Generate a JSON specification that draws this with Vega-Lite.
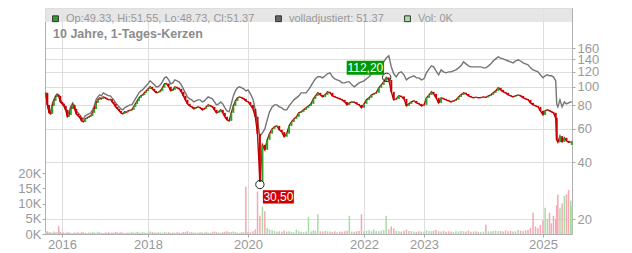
{
"$schema":"https://vega.github.io/schema/vega-lite/v6.json",
"width":527,"height":226,
"autosize":{"type":"none"},
"padding":{"left":45,"top":8,"right":60,"bottom":19},
"background":"#ffffff",
"title":{"text":"10 Jahre, 1-Tages-Kerzen","anchor":"start","frame":"group","offset":0,"baseline":"alphabetic","dx":8,"dy":42,"fontSize":12.5,"fontWeight":"bold","color":"#8c8c8c","font":"Liberation Sans"},
"datasets":{"p":[
{"d":"2015-08-01","o":91,"c":93,"a":93.5,"v":700},
{"d":"2015-08-16","o":93,"c":80.3,"a":81.3,"v":900},
{"d":"2015-09-01","o":80.3,"c":73,"a":74.6,"v":600},
{"d":"2015-09-16","o":73,"c":72,"a":73.8,"v":500},
{"d":"2015-10-01","o":72,"c":79.3,"a":81.3,"v":400},
{"d":"2015-10-16","o":79.3,"c":84.3,"a":85.4,"v":800},
{"d":"2015-11-01","o":84.3,"c":88.5,"a":89.6,"v":500},
{"d":"2015-11-16","o":88.5,"c":90.7,"a":91.8,"v":600},
{"d":"2015-12-01","o":90.7,"c":89.6,"a":90.7,"v":2600},
{"d":"2015-12-16","o":89.6,"c":83.3,"a":85.4,"v":700},
{"d":"2016-01-01","o":83.3,"c":81.3,"a":83.3,"v":400},
{"d":"2016-01-16","o":81.3,"c":79.3,"a":81.3,"v":500},
{"d":"2016-02-01","o":79.3,"c":75.6,"a":77.5,"v":300},
{"d":"2016-02-16","o":75.6,"c":69.5,"a":72,"v":600},
{"d":"2016-03-01","o":69.5,"c":71.1,"a":73.8,"v":500},
{"d":"2016-03-16","o":71.1,"c":76.5,"a":79.3,"v":400},
{"d":"2016-04-01","o":76.5,"c":80.3,"a":82.3,"v":300},
{"d":"2016-04-16","o":80.3,"c":76.5,"a":79.3,"v":500},
{"d":"2016-05-01","o":76.5,"c":72,"a":74.6,"v":400},
{"d":"2016-05-16","o":72,"c":70.3,"a":72.9,"v":600},
{"d":"2016-06-01","o":70.3,"c":68.6,"a":71.1,"v":300},
{"d":"2016-06-16","o":68.6,"c":66.1,"a":68.6,"v":700},
{"d":"2016-07-01","o":66.1,"c":65.3,"a":67.7,"v":500},
{"d":"2016-07-16","o":65.3,"c":67.7,"a":70.3,"v":400},
{"d":"2016-08-01","o":67.7,"c":68.6,"a":71.1,"v":300},
{"d":"2016-08-16","o":68.6,"c":69.5,"a":72,"v":500},
{"d":"2016-09-01","o":69.5,"c":70.3,"a":72.9,"v":400},
{"d":"2016-09-16","o":70.3,"c":72.9,"a":75.6,"v":600},
{"d":"2016-10-01","o":72.9,"c":76.5,"a":79.3,"v":500},
{"d":"2016-10-16","o":76.5,"c":82.3,"a":85.4,"v":400},
{"d":"2016-11-01","o":82.3,"c":85.4,"a":88.5,"v":700},
{"d":"2016-11-16","o":85.4,"c":87.5,"a":90.7,"v":500},
{"d":"2016-12-01","o":87.5,"c":86.4,"a":89.6,"v":400},
{"d":"2016-12-16","o":86.4,"c":88.5,"a":93,"v":300},
{"d":"2017-01-01","o":88.5,"c":87.5,"a":91.8,"v":500},
{"d":"2017-01-16","o":87.5,"c":86.4,"a":90.7,"v":400},
{"d":"2017-02-01","o":86.4,"c":85.4,"a":89.6,"v":600},
{"d":"2017-02-16","o":85.4,"c":86,"a":89.6,"v":300},
{"d":"2017-03-01","o":86,"c":83.3,"a":87.5,"v":500},
{"d":"2017-03-16","o":83.3,"c":81.3,"a":85.4,"v":400},
{"d":"2017-04-01","o":81.3,"c":78.4,"a":82.3,"v":700},
{"d":"2017-04-16","o":78.4,"c":76.5,"a":80.3,"v":500},
{"d":"2017-05-01","o":76.5,"c":74.7,"a":78.4,"v":400},
{"d":"2017-05-16","o":74.7,"c":72.9,"a":76.5,"v":600},
{"d":"2017-06-01","o":72.9,"c":72,"a":75.6,"v":500},
{"d":"2017-06-16","o":72,"c":73.8,"a":77.5,"v":300},
{"d":"2017-07-01","o":73.8,"c":73.4,"a":78.4,"v":400},
{"d":"2017-07-16","o":73.4,"c":74.7,"a":79.3,"v":500},
{"d":"2017-08-01","o":74.7,"c":75.2,"a":80.3,"v":400},
{"d":"2017-08-16","o":75.2,"c":75.6,"a":80.3,"v":600},
{"d":"2017-09-01","o":75.6,"c":78.4,"a":83.3,"v":500},
{"d":"2017-09-16","o":78.4,"c":81.3,"a":86.4,"v":400},
{"d":"2017-10-01","o":81.3,"c":84.3,"a":89.6,"v":700},
{"d":"2017-10-16","o":84.3,"c":87.5,"a":93,"v":500},
{"d":"2017-11-01","o":87.5,"c":89.6,"a":95.2,"v":400},
{"d":"2017-11-16","o":89.6,"c":90.7,"a":96.4,"v":600},
{"d":"2017-12-01","o":90.7,"c":93,"a":98.9,"v":500},
{"d":"2017-12-16","o":93,"c":95.2,"a":101.3,"v":300},
{"d":"2018-01-01","o":95.2,"c":97.6,"a":103.7,"v":500},
{"d":"2018-01-16","o":97.6,"c":100.1,"a":107.6,"v":800},
{"d":"2018-02-01","o":100.1,"c":97.6,"a":105,"v":600},
{"d":"2018-02-16","o":97.6,"c":95.2,"a":102.5,"v":500},
{"d":"2018-03-01","o":95.2,"c":93,"a":100.1,"v":400},
{"d":"2018-03-16","o":93,"c":93.6,"a":100.1,"v":600},
{"d":"2018-04-01","o":93.6,"c":95.2,"a":102.5,"v":500},
{"d":"2018-04-16","o":95.2,"c":98.9,"a":106.3,"v":400},
{"d":"2018-05-01","o":98.9,"c":103.7,"a":111.6,"v":700},
{"d":"2018-05-16","o":103.7,"c":104.2,"a":113,"v":500},
{"d":"2018-06-01","o":104.2,"c":100.1,"a":108.9,"v":600},
{"d":"2018-06-16","o":100.1,"c":95.2,"a":103.7,"v":400},
{"d":"2018-07-01","o":95.2,"c":96.4,"a":105,"v":500},
{"d":"2018-07-16","o":96.4,"c":100.1,"a":108.9,"v":400},
{"d":"2018-08-01","o":100.1,"c":98.9,"a":107.6,"v":600},
{"d":"2018-08-16","o":98.9,"c":97.6,"a":106.3,"v":500},
{"d":"2018-09-01","o":97.6,"c":94.1,"a":102.5,"v":400},
{"d":"2018-09-16","o":94.1,"c":89.6,"a":97.6,"v":700},
{"d":"2018-10-01","o":89.6,"c":85.4,"a":93,"v":600},
{"d":"2018-10-16","o":85.4,"c":81.3,"a":88.5,"v":900},
{"d":"2018-11-01","o":81.3,"c":79.3,"a":86.4,"v":500},
{"d":"2018-11-16","o":79.3,"c":78.4,"a":85.4,"v":600},
{"d":"2018-12-01","o":78.4,"c":76.5,"a":83.3,"v":400},
{"d":"2018-12-16","o":76.5,"c":77.5,"a":84.3,"v":500},
{"d":"2019-01-01","o":77.5,"c":78.4,"a":85.4,"v":400},
{"d":"2019-01-16","o":78.4,"c":77.5,"a":85.4,"v":600},
{"d":"2019-02-01","o":77.5,"c":75.6,"a":83.3,"v":500},
{"d":"2019-02-16","o":75.6,"c":76.5,"a":84.3,"v":400},
{"d":"2019-03-01","o":76.5,"c":78.4,"a":86.4,"v":700},
{"d":"2019-03-16","o":78.4,"c":80.3,"a":88.5,"v":500},
{"d":"2019-04-01","o":80.3,"c":79.3,"a":87.5,"v":400},
{"d":"2019-04-16","o":79.3,"c":78.4,"a":86.4,"v":600},
{"d":"2019-05-01","o":78.4,"c":75.6,"a":83.3,"v":800},
{"d":"2019-05-16","o":75.6,"c":72.9,"a":80.3,"v":600},
{"d":"2019-06-01","o":72.9,"c":73.8,"a":81.3,"v":500},
{"d":"2019-06-16","o":73.8,"c":75.6,"a":83.3,"v":400},
{"d":"2019-07-01","o":75.6,"c":72.9,"a":81.3,"v":600},
{"d":"2019-07-16","o":72.9,"c":69.5,"a":77.5,"v":700},
{"d":"2019-08-01","o":69.5,"c":66.9,"a":74.7,"v":900},
{"d":"2019-08-16","o":66.9,"c":66.1,"a":73.8,"v":600},
{"d":"2019-09-01","o":66.1,"c":72.9,"a":81.3,"v":700},
{"d":"2019-09-16","o":72.9,"c":79.3,"a":89.6,"v":800},
{"d":"2019-10-01","o":79.3,"c":84.3,"a":95.2,"v":600},
{"d":"2019-10-16","o":84.3,"c":87.5,"a":98.9,"v":500},
{"d":"2019-11-01","o":87.5,"c":88.5,"a":100.1,"v":400},
{"d":"2019-11-16","o":88.5,"c":87.5,"a":98.9,"v":600},
{"d":"2019-12-01","o":87.5,"c":86.4,"a":97.6,"v":500},
{"d":"2019-12-16","o":86.4,"c":84.3,"a":95.2,"v":15500},
{"d":"2020-01-01","o":84.3,"c":83.3,"a":96.4,"v":700},
{"d":"2020-01-16","o":83.3,"c":80.3,"a":91.8,"v":600},
{"d":"2020-02-01","o":80.3,"c":76.5,"a":86.4,"v":900},
{"d":"2020-02-16","o":76.5,"c":69.5,"a":75.6,"v":1500},
{"d":"2020-03-01","o":69.5,"c":56.4,"a":65.3,"v":14000},
{"d":"2020-03-16","o":56.4,"c":31.5,"a":54.9,"v":6000},
{"d":"2020-04-01","o":31.5,"c":49.4,"a":57.1,"v":9000},
{"d":"2020-04-16","o":49.4,"c":46.5,"a":60,"v":7500},
{"d":"2020-05-01","o":46.5,"c":52.5,"a":66.9,"v":2000},
{"d":"2020-05-16","o":52.5,"c":56.6,"a":73.8,"v":1500},
{"d":"2020-06-01","o":56.6,"c":60,"a":78.4,"v":1200},
{"d":"2020-06-16","o":60,"c":61.5,"a":80.3,"v":1000},
{"d":"2020-07-01","o":61.5,"c":62.2,"a":80.3,"v":800},
{"d":"2020-07-16","o":62.2,"c":59.3,"a":78.4,"v":900},
{"d":"2020-08-01","o":59.3,"c":57.7,"a":77.5,"v":700},
{"d":"2020-08-16","o":57.7,"c":54.5,"a":75.6,"v":1100},
{"d":"2020-09-01","o":54.5,"c":56.6,"a":75.6,"v":800},
{"d":"2020-09-16","o":56.6,"c":62.2,"a":79.3,"v":900},
{"d":"2020-10-01","o":62.2,"c":65.3,"a":82.3,"v":700},
{"d":"2020-10-16","o":65.3,"c":67.7,"a":85.4,"v":600},
{"d":"2020-11-01","o":67.7,"c":69.5,"a":87.5,"v":1400},
{"d":"2020-11-16","o":69.5,"c":72.9,"a":89.6,"v":900},
{"d":"2020-12-01","o":72.9,"c":73.8,"a":93,"v":700},
{"d":"2020-12-16","o":73.8,"c":75.6,"a":93,"v":600},
{"d":"2021-01-01","o":75.6,"c":77.5,"a":93,"v":800},
{"d":"2021-01-16","o":77.5,"c":79.3,"a":96.4,"v":5500},
{"d":"2021-02-01","o":79.3,"c":81.3,"a":101.3,"v":900},
{"d":"2021-02-16","o":81.3,"c":86.4,"a":106.3,"v":1200},
{"d":"2021-03-01","o":86.4,"c":89.6,"a":110.3,"v":1000},
{"d":"2021-03-16","o":89.6,"c":93,"a":113,"v":6500},
{"d":"2021-04-01","o":93,"c":90.7,"a":113,"v":900},
{"d":"2021-04-16","o":90.7,"c":88.5,"a":111.6,"v":800},
{"d":"2021-05-01","o":88.5,"c":90.7,"a":114.4,"v":1000},
{"d":"2021-05-16","o":90.7,"c":94.1,"a":117.2,"v":900},
{"d":"2021-06-01","o":94.1,"c":93,"a":118.6,"v":800},
{"d":"2021-06-16","o":93,"c":89.6,"a":113,"v":700},
{"d":"2021-07-01","o":89.6,"c":88.5,"a":110.3,"v":900},
{"d":"2021-07-16","o":88.5,"c":87.5,"a":108.9,"v":600},
{"d":"2021-08-01","o":87.5,"c":86.4,"a":107.6,"v":800},
{"d":"2021-08-16","o":86.4,"c":85.4,"a":105,"v":700},
{"d":"2021-09-01","o":85.4,"c":83.3,"a":105,"v":900},
{"d":"2021-09-16","o":83.3,"c":80.3,"a":106.3,"v":1100},
{"d":"2021-10-01","o":80.3,"c":82.3,"a":106.3,"v":6000},
{"d":"2021-10-16","o":82.3,"c":83.3,"a":102.5,"v":800},
{"d":"2021-11-01","o":83.3,"c":83,"a":100.1,"v":700},
{"d":"2021-11-16","o":83,"c":81.3,"a":102.5,"v":900},
{"d":"2021-12-01","o":81.3,"c":80.3,"a":105,"v":1000},
{"d":"2021-12-16","o":80.3,"c":77.5,"a":106.3,"v":6500},
{"d":"2022-01-01","o":77.5,"c":81.3,"a":107.6,"v":900},
{"d":"2022-01-16","o":81.3,"c":85.4,"a":110.3,"v":1000},
{"d":"2022-02-01","o":85.4,"c":87.5,"a":113,"v":1200},
{"d":"2022-02-16","o":87.5,"c":90.7,"a":117.2,"v":900},
{"d":"2022-03-01","o":90.7,"c":91.8,"a":120,"v":1500},
{"d":"2022-03-16","o":91.8,"c":93,"a":124.5,"v":1000},
{"d":"2022-04-01","o":93,"c":98.9,"a":127.5,"v":900},
{"d":"2022-04-16","o":98.9,"c":102.5,"a":130.7,"v":1100},
{"d":"2022-05-01","o":102.5,"c":106.3,"a":135.6,"v":1300},
{"d":"2022-05-16","o":106.3,"c":112.2,"a":142,"v":6000},
{"d":"2022-06-01","o":112.2,"c":108.9,"a":145.8,"v":1500},
{"d":"2022-06-16","o":108.9,"c":94.1,"a":127.5,"v":2500},
{"d":"2022-07-01","o":94.1,"c":85.4,"a":117.2,"v":1800},
{"d":"2022-07-16","o":85.4,"c":86.4,"a":113,"v":1000},
{"d":"2022-08-01","o":86.4,"c":89.6,"a":118.6,"v":900},
{"d":"2022-08-16","o":89.6,"c":89,"a":120,"v":800},
{"d":"2022-09-01","o":89,"c":86.4,"a":115.8,"v":1100},
{"d":"2022-09-16","o":86.4,"c":79.3,"a":108.9,"v":1500},
{"d":"2022-10-01","o":79.3,"c":81.3,"a":111.6,"v":1000},
{"d":"2022-10-16","o":81.3,"c":83.3,"a":113,"v":900},
{"d":"2022-11-01","o":83.3,"c":84.3,"a":114.4,"v":800},
{"d":"2022-11-16","o":84.3,"c":82.3,"a":111.6,"v":700},
{"d":"2022-12-01","o":82.3,"c":81.3,"a":111.6,"v":900},
{"d":"2022-12-16","o":81.3,"c":79.3,"a":108.9,"v":800},
{"d":"2023-01-01","o":79.3,"c":80.3,"a":110.3,"v":700},
{"d":"2023-01-16","o":80.3,"c":87.5,"a":118.6,"v":1200},
{"d":"2023-02-01","o":87.5,"c":90.7,"a":124.5,"v":1000},
{"d":"2023-02-16","o":90.7,"c":94.1,"a":129.1,"v":900},
{"d":"2023-03-01","o":94.1,"c":91.8,"a":127.5,"v":1100},
{"d":"2023-03-16","o":91.8,"c":87.5,"a":121.5,"v":1300},
{"d":"2023-04-01","o":87.5,"c":82.3,"a":115.8,"v":900},
{"d":"2023-04-16","o":82.3,"c":87.5,"a":123,"v":800},
{"d":"2023-05-01","o":87.5,"c":86.4,"a":120,"v":1000},
{"d":"2023-05-16","o":86.4,"c":85.4,"a":118.6,"v":700},
{"d":"2023-06-01","o":85.4,"c":84.3,"a":120,"v":900},
{"d":"2023-06-16","o":84.3,"c":83.3,"a":120,"v":800},
{"d":"2023-07-01","o":83.3,"c":84.3,"a":121.5,"v":700},
{"d":"2023-07-16","o":84.3,"c":85.4,"a":123,"v":900},
{"d":"2023-08-01","o":85.4,"c":88.5,"a":126,"v":800},
{"d":"2023-08-16","o":88.5,"c":90.7,"a":129.1,"v":1000},
{"d":"2023-09-01","o":90.7,"c":93,"a":135.6,"v":900},
{"d":"2023-09-16","o":93,"c":91.8,"a":132.3,"v":800},
{"d":"2023-10-01","o":91.8,"c":89.6,"a":129.1,"v":1100},
{"d":"2023-10-16","o":89.6,"c":88.5,"a":127.5,"v":700},
{"d":"2023-11-01","o":88.5,"c":87.5,"a":127.5,"v":800},
{"d":"2023-11-16","o":87.5,"c":88.2,"a":127.5,"v":900},
{"d":"2023-12-01","o":88.2,"c":87.5,"a":127.5,"v":700},
{"d":"2023-12-16","o":87.5,"c":87.8,"a":127.5,"v":600},
{"d":"2024-01-01","o":87.8,"c":88.5,"a":126,"v":800},
{"d":"2024-01-16","o":88.5,"c":88,"a":126,"v":3000},
{"d":"2024-02-01","o":88,"c":89.6,"a":129.1,"v":900},
{"d":"2024-02-16","o":89.6,"c":90.7,"a":132.3,"v":800},
{"d":"2024-03-01","o":90.7,"c":93,"a":137,"v":1000},
{"d":"2024-03-16","o":93,"c":95.2,"a":140.5,"v":1100},
{"d":"2024-04-01","o":95.2,"c":98.9,"a":144,"v":900},
{"d":"2024-04-16","o":98.9,"c":96.4,"a":142,"v":1000},
{"d":"2024-05-01","o":96.4,"c":94.1,"a":140.5,"v":800},
{"d":"2024-05-16","o":94.1,"c":93,"a":138.9,"v":1200},
{"d":"2024-06-01","o":93,"c":90.7,"a":137,"v":900},
{"d":"2024-06-16","o":90.7,"c":89.6,"a":135.6,"v":1000},
{"d":"2024-07-01","o":89.6,"c":88.5,"a":133.9,"v":800},
{"d":"2024-07-16","o":88.5,"c":89.6,"a":137,"v":900},
{"d":"2024-08-01","o":89.6,"c":90.7,"a":138.9,"v":1300},
{"d":"2024-08-16","o":90.7,"c":89.6,"a":137,"v":1100},
{"d":"2024-09-01","o":89.6,"c":87.5,"a":133.9,"v":1000},
{"d":"2024-09-16","o":87.5,"c":86.4,"a":132.3,"v":1200},
{"d":"2024-10-01","o":86.4,"c":85.4,"a":130.7,"v":1400},
{"d":"2024-10-16","o":85.4,"c":82.3,"a":126,"v":2000},
{"d":"2024-11-01","o":82.3,"c":80.3,"a":123,"v":7000},
{"d":"2024-11-16","o":80.3,"c":79.3,"a":121.5,"v":2500},
{"d":"2024-12-01","o":79.3,"c":78.4,"a":120,"v":2000},
{"d":"2024-12-16","o":78.4,"c":74.7,"a":115.8,"v":3000},
{"d":"2025-01-01","o":74.7,"c":71.1,"a":111.6,"v":4500},
{"d":"2025-01-16","o":71.1,"c":74.7,"a":114.4,"v":8600},
{"d":"2025-02-01","o":74.7,"c":75.6,"a":115.8,"v":5000},
{"d":"2025-02-16","o":75.6,"c":74.7,"a":114.4,"v":7000},
{"d":"2025-03-01","o":74.7,"c":73.8,"a":114.4,"v":3500},
{"d":"2025-03-16","o":73.8,"c":72.9,"a":113,"v":6000},
{"d":"2025-04-01","o":72.9,"c":68.6,"a":107.6,"v":5000},
{"d":"2025-04-08","o":68.6,"c":52.5,"a":81.3,"v":9500},
{"d":"2025-04-16","o":52.5,"c":51,"a":78.4,"v":13000},
{"d":"2025-05-01","o":51,"c":54.9,"a":85.4,"v":8500},
{"d":"2025-05-16","o":54.9,"c":51.2,"a":78.4,"v":10000},
{"d":"2025-06-01","o":51.2,"c":53.8,"a":83.3,"v":12500},
{"d":"2025-06-16","o":53.8,"c":51.9,"a":81.3,"v":13000},
{"d":"2025-07-01","o":51.9,"c":51,"a":82.3,"v":14500},
{"d":"2025-07-16","o":51,"c":51.2,"a":83.3,"v":11000},
{"d":"2025-07-24","o":49.33,"c":51.37,"a":83.3,"v":9000}
]},
"layer":[
{"data":{"name":"p"},
 "mark":{"type":"rule","strokeWidth":1.5},
 "encoding":{
  "x":{"field":"d","type":"temporal","title":null,
   "scale":{"domainRaw":{"expr":"[1437782400000,1451606400000,1514764800000,1577836800000,1640995200000,1672531200000,1735689600000,1753401600000]"},"range":[0,17,103,203,319,379,498,527],"nice":false},
   "axis":{"orient":"bottom","values":[1451606400000,1514764800000,1577836800000,1640995200000,1672531200000,1735689600000],"format":"%Y","grid":true,"tickSize":3,"labelPadding":1,"labelOverlap":false,"labelFlush":false}},
  "y":{"field":"v","type":"quantitative","title":null,"scale":{"domain":[0,74300]},
   "axis":{"orient":"left","values":[0,5000,10000,15000,20000],"labelExpr":"format(datum.value/1000,'d') + 'K'","grid":false,"tickSize":3,"labelPadding":1}},
  "y2":{"datum":0},
  "stroke":{"condition":{"test":"datum.c >= datum.o","value":"#a9dba5"},"value":"#f4a8b2"}
 }},
{"layer":[
 {"data":{"values":[{}]},
  "mark":{"type":"rect","fill":"#e2e2e2","opacity":0.85},
  "encoding":{"y":{"datum":220.4,"type":"quantitative","scale":{"type":"log","domain":[16.7,261]},"title":null},"y2":{"datum":261}}},
 {"data":{"name":"p"},
  "mark":{"type":"line","stroke":"#747474","strokeWidth":1.4},
  "encoding":{"x":{"field":"d","type":"temporal","axis":null,"scale":{"domainRaw":{"expr":"[1437782400000,1451606400000,1514764800000,1577836800000,1640995200000,1672531200000,1735689600000,1753401600000]"},"range":[0,17,103,203,319,379,498,527],"nice":false}},
   "y":{"field":"a","type":"quantitative","title":null,"scale":{"type":"log","domain":[16.7,261]},
    "axis":{"orient":"right","values":[20,40,60,80,100,120,140,160],"labelExpr":"format(datum.value,'d')","grid":true,"tickSize":3,"labelPadding":2,"labelOverlap":false,"labelFlush":false}}}},
 {"data":{"name":"p"},
  "mark":{"type":"line","stroke":"#c00000","strokeWidth":1.4},
  "encoding":{"x":{"field":"d","type":"temporal","axis":null,"scale":{"domainRaw":{"expr":"[1437782400000,1451606400000,1514764800000,1577836800000,1640995200000,1672531200000,1735689600000,1753401600000]"},"range":[0,17,103,203,319,379,498,527],"nice":false}},
   "y":{"field":"c","type":"quantitative","title":null,"scale":{"type":"log","domain":[16.7,261]}}}},
 {"data":{"name":"p"},
  "mark":{"type":"rule","strokeWidth":2},
  "encoding":{"x":{"field":"d","type":"temporal","axis":null,"scale":{"domainRaw":{"expr":"[1437782400000,1451606400000,1514764800000,1577836800000,1640995200000,1672531200000,1735689600000,1753401600000]"},"range":[0,17,103,203,319,379,498,527],"nice":false}},
   "y":{"field":"o","type":"quantitative","title":null,"scale":{"type":"log","domain":[16.7,261]}},
   "y2":{"field":"c"},
   "stroke":{"condition":{"test":"datum.c >= datum.o","value":"#2f9f2f"},"value":"#cc0000"}}},
 {"data":{"values":[{"d":"2020-03-16","p":30.5},{"d":"2022-05-19","p":112.2}]},
  "mark":{"type":"point","shape":"circle","size":70,"filled":false,"stroke":"#222222","strokeWidth":1,"opacity":1},
  "encoding":{"x":{"field":"d","type":"temporal","axis":null,"scale":{"domainRaw":{"expr":"[1437782400000,1451606400000,1514764800000,1577836800000,1640995200000,1672531200000,1735689600000,1753401600000]"},"range":[0,17,103,203,319,379,498,527],"nice":false}},
   "y":{"field":"p","type":"quantitative","title":null,"scale":{"type":"log","domain":[16.7,261]}}}},
 {"data":{"values":[{"d":"2020-03-16","p":30.5,"t":"30,50"}]},
  "mark":{"type":"point","shape":"M-1,-0.43H1V0.43H-1Z","size":961,"filled":true,"fill":"#cc0000","opacity":1,"xOffset":18.5,"yOffset":12.4},
  "encoding":{"x":{"field":"d","type":"temporal","axis":null,"scale":{"domainRaw":{"expr":"[1437782400000,1451606400000,1514764800000,1577836800000,1640995200000,1672531200000,1735689600000,1753401600000]"},"range":[0,17,103,203,319,379,498,527],"nice":false}},
   "y":{"field":"p","type":"quantitative","title":null,"scale":{"type":"log","domain":[16.7,261]}}}},
 {"data":{"values":[{"d":"2022-05-19","p":112.2,"t":"112,20"}]},
  "mark":{"type":"point","shape":"M-1,-0.375H1V0.375H-1Z","size":1399,"filled":true,"fill":"#009900","opacity":1,"xOffset":-21.3,"yOffset":-9.7},
  "encoding":{"x":{"field":"d","type":"temporal","axis":null,"scale":{"domainRaw":{"expr":"[1437782400000,1451606400000,1514764800000,1577836800000,1640995200000,1672531200000,1735689600000,1753401600000]"},"range":[0,17,103,203,319,379,498,527],"nice":false}},
   "y":{"field":"p","type":"quantitative","title":null,"scale":{"type":"log","domain":[16.7,261]}}}},
 {"data":{"values":[{"d":"2020-03-16","p":30.5,"t":"30,50"}]},
  "mark":{"type":"text","dx":18.5,"dy":12.6,"align":"center","baseline":"middle","font":"Liberation Sans","fontSize":12,"fill":"#ffffff"},
  "encoding":{"x":{"field":"d","type":"temporal","axis":null,"scale":{"domainRaw":{"expr":"[1437782400000,1451606400000,1514764800000,1577836800000,1640995200000,1672531200000,1735689600000,1753401600000]"},"range":[0,17,103,203,319,379,498,527],"nice":false}},
   "y":{"field":"p","type":"quantitative","title":null,"scale":{"type":"log","domain":[16.7,261]}},
   "text":{"field":"t"}}},
 {"data":{"values":[{"d":"2022-05-19","p":112.2,"t":"112,20"}]},
  "mark":{"type":"text","dx":-21.3,"dy":-9.5,"align":"center","baseline":"middle","font":"Liberation Sans","fontSize":12,"fill":"#ffffff"},
  "encoding":{"x":{"field":"d","type":"temporal","axis":null,"scale":{"domainRaw":{"expr":"[1437782400000,1451606400000,1514764800000,1577836800000,1640995200000,1672531200000,1735689600000,1753401600000]"},"range":[0,17,103,203,319,379,498,527],"nice":false}},
   "y":{"field":"p","type":"quantitative","title":null,"scale":{"type":"log","domain":[16.7,261]}},
   "text":{"field":"t"}}},
 {"data":{"values":[{"s":"Op:49.33, Hi:51.55, Lo:48.73, Cl:51.37"},{"s":"volladjustiert: 51.37"},{"s":"Vol: 0K"}]},
  "mark":{"type":"point","filled":true,"opacity":0},
  "encoding":{"color":{"field":"s","type":"nominal",
    "scale":{"domain":["Op:49.33, Hi:51.55, Lo:48.73, Cl:51.37","volladjustiert: 51.37","Vol: 0K"],"range":["#2e9e2e","#666666","#a9dba5"]},
    "legend":{"orient":"top-left","direction":"horizontal","offset":5,"padding":0,"columnPadding":18,"labelOffset":5,"symbolType":"square","symbolSize":34,"symbolStrokeColor":"#333333","symbolStrokeWidth":1,"symbolOpacity":1,"labelFont":"Liberation Sans","labelFontSize":11,"labelColor":"#999999","labelLimit":400,"title":null}}}}
 ],
 "resolve":{"scale":{"x":"independent"}}
}
],
"resolve":{"scale":{"y":"independent","x":"independent"}},
"config":{
 "view":{"stroke":"#c4c4c4"},
 "axis":{"labelFont":"Liberation Sans","labelFontSize":13,"labelColor":"#999999","tickColor":"#a8a8a8","domainColor":"#b0b0b0","gridColor":"#dedede"}
}
}
